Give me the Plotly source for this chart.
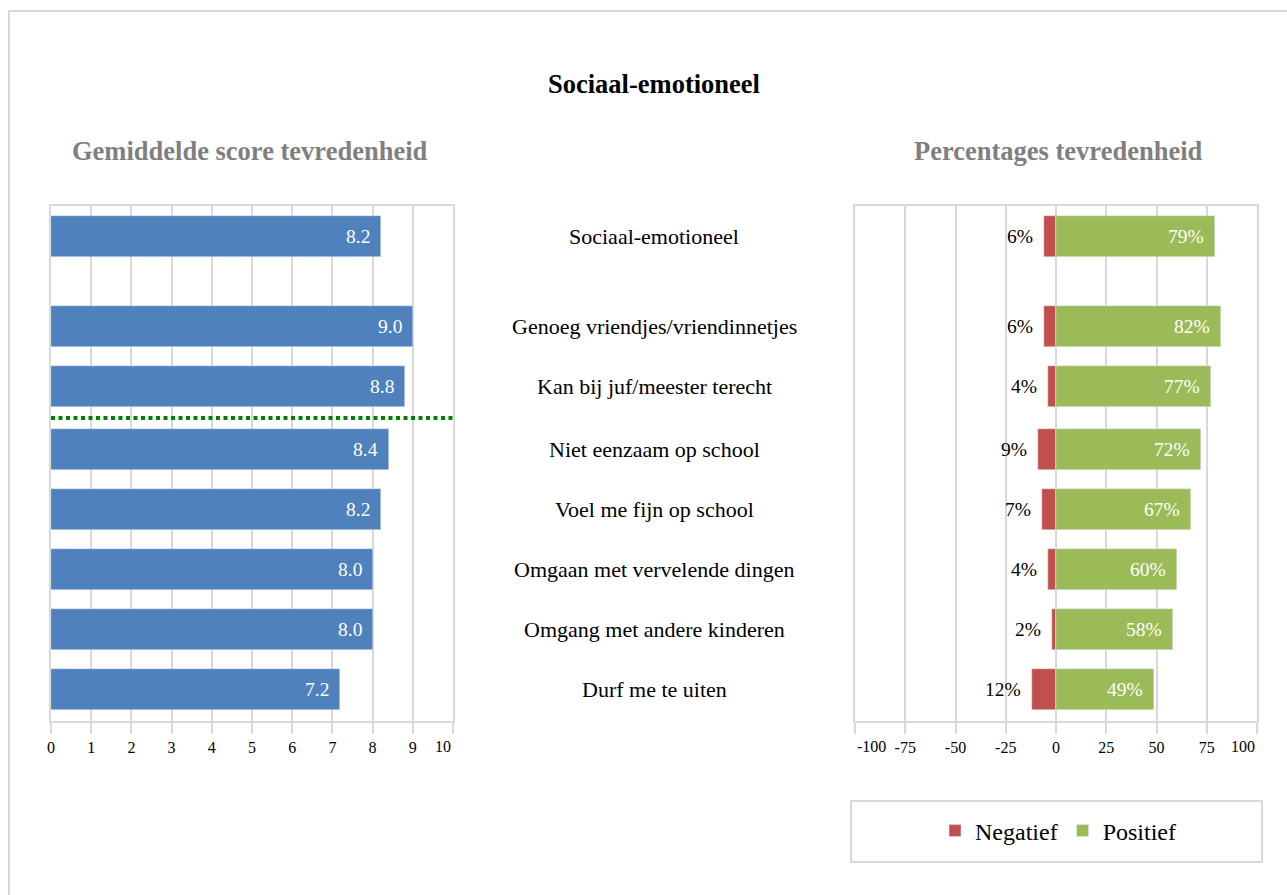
import plotly.graph_objects as go

# ---------------- data ----------------
categories = [
    "Sociaal-emotioneel",
    "Genoeg vriendjes/vriendinnetjes",
    "Kan bij juf/meester terecht",
    "Niet eenzaam op school",
    "Voel me fijn op school",
    "Omgaan met vervelende dingen",
    "Omgang met andere kinderen",
    "Durf me te uiten",
]
scores = [8.2, 9.0, 8.8, 8.4, 8.2, 8.0, 8.0, 7.2]
negatief = [6, 6, 4, 9, 7, 4, 2, 12]
positief = [79, 82, 77, 72, 67, 60, 58, 49]

left_ticks = [0, 1, 2, 3, 4, 5, 6, 7, 8, 9, 10]
left_ticktext = ["0", "1", "2", "3", "4", "5", "6", "7", "8", "9", "10"]
right_ticks = [-100, -75, -50, -25, 0, 25, 50, 75, 100]
right_ticktext = ["-100", "-75", "-50", "-25", "0", "25", "50", "75", "100"]

title = "Sociaal-emotioneel"
left_title = "Gemiddelde score tevredenheid"
right_title = "Percentages tevredenheid"

# ---------------- layout helpers ----------------
W, H = 1287, 895
FONT = "Liberation Serif"
GRID = "#d9d9d9"
BLUE = "#4F81BD"
RED = "#C0504D"
GREEN = "#9BBB59"
TICK_Y = 746.5

# row slots: extra gap after the first row and a small gap at the separator line
row_pos = [i + (0.5 if i >= 1 else 0) + (0.05 if i >= 3 else 0) for i in range(len(categories))]
sep_pos = (row_pos[2] + row_pos[3]) / 2
bar_w = 0.683


def px_x(p):
    return p / W


def px_y(p):
    return 1 - p / H


fig = go.Figure()

fig.add_trace(go.Bar(
    y=row_pos, x=scores, orientation="h", marker_color=BLUE, width=bar_w,
    xaxis="x", yaxis="y", showlegend=False, hoverinfo="skip",
))
fig.add_trace(go.Bar(
    y=row_pos, x=[-v for v in negatief], orientation="h", marker_color=RED, width=bar_w,
    xaxis="x2", yaxis="y2", name="Negatief", hoverinfo="skip",
))
fig.add_trace(go.Bar(
    y=row_pos, x=positief, orientation="h", marker_color=GREEN, width=bar_w,
    xaxis="x2", yaxis="y2", name="Positief", hoverinfo="skip",
))

annotations = []
for i, cat in enumerate(categories):
    annotations.append(dict(
        x=px_x(654), xref="paper", y=row_pos[i], yref="y", text=cat, showarrow=False,
        xanchor="center", yanchor="middle", font=dict(family=FONT, size=22, color="#000000"),
    ))
    annotations.append(dict(
        x=scores[i], xref="x", y=row_pos[i], yref="y", text=f"{scores[i]:.1f}", showarrow=False,
        xanchor="right", yanchor="middle", xshift=-9, font=dict(family=FONT, size=19.5, color="#ffffff"),
    ))
    annotations.append(dict(
        x=-negatief[i], xref="x2", y=row_pos[i], yref="y2", text=f"{negatief[i]}%", showarrow=False,
        xanchor="right", yanchor="middle", xshift=-9, font=dict(family=FONT, size=19.5, color="#000000"),
    ))
    annotations.append(dict(
        x=positief[i], xref="x2", y=row_pos[i], yref="y2", text=f"{positief[i]}%", showarrow=False,
        xanchor="right", yanchor="middle", xshift=-9, font=dict(family=FONT, size=19.5, color="#ffffff"),
    ))

# edge tick labels are kept inside the plot width (as in the original)
tickfont = dict(family=FONT, size=16, color="#000000")
annotations.append(dict(x=left_ticks[-1], xref="x", y=px_y(TICK_Y), yref="paper", text=left_ticktext[-1],
                        showarrow=False, xanchor="right", yanchor="middle", font=tickfont))
annotations.append(dict(x=right_ticks[0], xref="x2", y=px_y(TICK_Y), yref="paper", text=right_ticktext[0],
                        showarrow=False, xanchor="left", yanchor="middle", font=tickfont))
annotations.append(dict(x=right_ticks[-1], xref="x2", y=px_y(TICK_Y), yref="paper", text=right_ticktext[-1],
                        showarrow=False, xanchor="right", yanchor="middle", font=tickfont))
left_axis_text = left_ticktext[:-1] + [""]
right_axis_text = [""] + right_ticktext[1:-1] + [""]

annotations.append(dict(
    x=px_x(653.5), xref="paper", y=px_y(84), yref="paper", text=f"<b>{title}</b>", showarrow=False,
    xanchor="center", yanchor="middle", font=dict(family=FONT, size=26.5, color="#000000"),
))
annotations.append(dict(
    x=px_x(250), xref="paper", y=px_y(151), yref="paper", text=f"<b>{left_title}</b>", showarrow=False,
    xanchor="center", yanchor="middle", font=dict(family=FONT, size=26.5, color="#7f7f7f"),
))
annotations.append(dict(
    x=px_x(1058), xref="paper", y=px_y(151), yref="paper", text=f"<b>{right_title}</b>", showarrow=False,
    xanchor="center", yanchor="middle", font=dict(family=FONT, size=26.5, color="#7f7f7f"),
))

shapes = [
    # page border
    dict(type="rect", xref="paper", yref="paper", x0=px_x(9), y0=px_y(11), x1=1.05, y1=-0.05,
         line=dict(color=GRID, width=2), fillcolor="rgba(0,0,0,0)", layer="below"),
    # legend border
    dict(type="rect", xref="paper", yref="paper", x0=px_x(851), y0=px_y(801), x1=px_x(1262), y1=px_y(862),
         line=dict(color=GRID, width=2), fillcolor="rgba(0,0,0,0)"),
    # separator line
    dict(type="line", xref="x", yref="y", x0=0, x1=10.03, y0=sep_pos, y1=sep_pos,
         line=dict(color="#008000", width=4, dash="4px,3.5px")),
]

axis_common = dict(
    showgrid=True, gridcolor=GRID, gridwidth=2, zeroline=False,
    showline=True, linecolor=GRID, linewidth=2, mirror=True,
    ticks="outside", ticklen=11, tickwidth=2, tickcolor=GRID,
    tickfont=tickfont,
    fixedrange=True, automargin=False,
)
yaxis_common = dict(
    showgrid=False, zeroline=False, showticklabels=False, ticks="",
    showline=True, linecolor=GRID, linewidth=2, mirror=True,
    range=[(721 - 236.5) / 60, (206 - 236.5) / 60], domain=[px_y(721), px_y(206)],
    fixedrange=True, automargin=False,
)

fig.update_layout(
    width=W, height=H, autosize=False,
    margin=dict(l=0, r=0, t=0, b=0, pad=0, autoexpand=False),
    paper_bgcolor="#ffffff", plot_bgcolor="#ffffff",
    barmode="relative", bargap=0,
    xaxis=dict(axis_common, domain=[px_x(51), px_x(453)], range=[0, 10],
               tickvals=left_ticks, ticktext=left_axis_text, anchor="y"),
    yaxis=dict(yaxis_common, anchor="x"),
    xaxis2=dict(axis_common, domain=[px_x(855), px_x(1257)], range=[-100, 100],
                tickvals=right_ticks, ticktext=right_axis_text, anchor="y2"),
    yaxis2=dict(yaxis_common, anchor="x2"),
    showlegend=True,
    legend=dict(orientation="h", x=px_x(1058), y=px_y(831), xanchor="center", yanchor="middle",
                font=dict(family=FONT, size=24, color="#000000"), bgcolor="rgba(0,0,0,0)",
                borderwidth=0, traceorder="normal"),
    annotations=annotations,
    shapes=shapes,
    font=dict(family=FONT),
)

fig.write_html("out.html", config={"displayModeBar": False},
               post_script="document.body.style.margin='0';document.body.style.overflow='hidden';")
